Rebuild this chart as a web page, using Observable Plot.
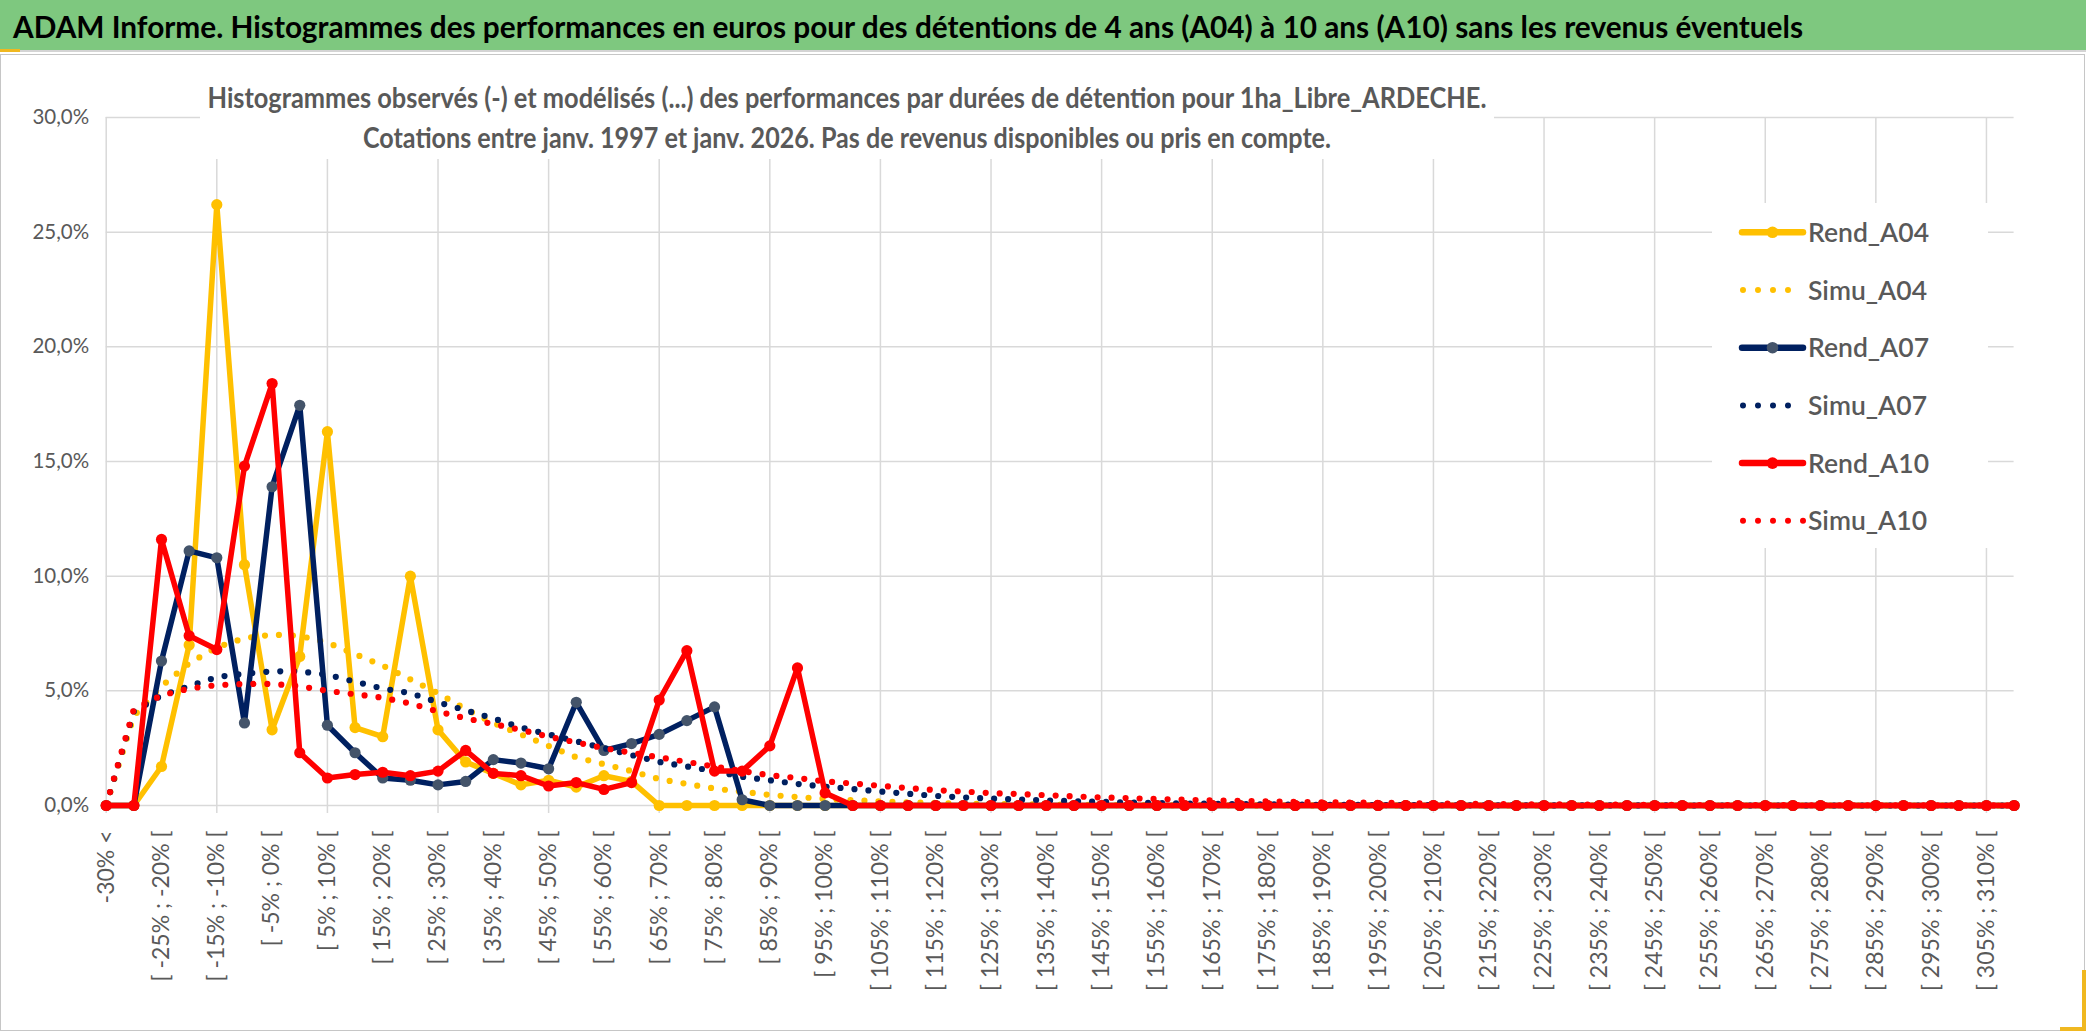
<!DOCTYPE html>
<html>
<head>
<meta charset="utf-8">
<script src="https://cdn.jsdelivr.net/npm/d3@7"></script>
<script src="https://cdn.jsdelivr.net/npm/@observablehq/plot@0.6"></script>
<style>
  html, body { margin: 0; padding: 0; background: #fff; overflow: hidden; width: 2086px; height: 1031px; }
  #title { position: relative; width: 2086px; height: 50px; background: #7ec87f; border-bottom: 2px solid #d4d4d4; box-sizing: content-box; }
  #titleText { position: absolute; left: 13px; top: 0; line-height: 52px; font-family: Lato, sans-serif; font-weight: 700; font-size: 30px; color: #000; white-space: nowrap; transform-origin: 0 50%; }
  #chart { position: relative; width: 2086px; height: 979px; }
  #subtitle { position: absolute; left: 200px; top: 8px; width: 1294px; height: 99px; background: #fff; font-family: Lato, sans-serif; font-weight: 700; font-size: 28.5px; color: #595959; padding-top: 17px; box-sizing: border-box; }
  #subtitle div { position: relative; height: 40px; line-height: 40px; white-space: nowrap; }
  #subtitle span { position: absolute; left: 50%; top: 0; display: inline-block; transform-origin: 50% 50%; transform: translateX(-50%); }
  #legend { position: absolute; left: 1712px; top: 151px; width: 276px; height: 345px; background: #fff; }
  #frame { position: absolute; left: 0; top: 2px; width: 2083px; height: 975px; border: 1px solid #c6c6c6; pointer-events: none; }
  .gold { position: absolute; background: #f0b820; }
</style>
</head>
<body>
<div id="title"><span id="titleText">ADAM Informe. Histogrammes des performances en euros pour des détentions de 4 ans (A04) à 10 ans (A10) sans les revenus éventuels</span></div>
<div id="chart">
  <div id="frame"></div>
  <div id="subtitle">
    <div><span id="sub1">Histogrammes observés (-) et modélisés (...) des performances par durées de détention pour 1ha_Libre_ARDECHE.</span></div>
    <div><span id="sub2">Cotations entre janv. 1997 et janv. 2026. Pas de revenus disponibles ou pris en compte.</span></div>
  </div>
  <div id="legend"></div>
  <div class="gold" style="left:0;top:-3px;width:20px;height:3px;"></div>
  <div class="gold" style="left:2082px;top:918px;width:4px;height:61px;"></div>
  <div class="gold" style="left:2060px;top:975px;width:26px;height:4px;"></div>
</div>
<script>
// ---- Data ----
const categories = [
  "-30% <", "[ -30% ; -25% [", "[ -25% ; -20% [", "[ -20% ; -15% [", "[ -15% ; -10% [", "[ -10% ; -5% [",
  "[ -5% ; 0% [", "[ 0% ; 5% [", "[ 5% ; 10% [", "[ 10% ; 15% [", "[ 15% ; 20% [", "[ 20% ; 25% [",
  "[ 25% ; 30% [", "[ 30% ; 35% [", "[ 35% ; 40% [", "[ 40% ; 45% [", "[ 45% ; 50% [", "[ 50% ; 55% [",
  "[ 55% ; 60% [", "[ 60% ; 65% [", "[ 65% ; 70% [", "[ 70% ; 75% [", "[ 75% ; 80% [", "[ 80% ; 85% [",
  "[ 85% ; 90% [", "[ 90% ; 95% [", "[ 95% ; 100% [", "[ 100% ; 105% [", "[ 105% ; 110% [", "[ 110% ; 115% [",
  "[ 115% ; 120% [", "[ 120% ; 125% [", "[ 125% ; 130% [", "[ 130% ; 135% [", "[ 135% ; 140% [", "[ 140% ; 145% [",
  "[ 145% ; 150% [", "[ 150% ; 155% [", "[ 155% ; 160% [", "[ 160% ; 165% [", "[ 165% ; 170% [", "[ 170% ; 175% [",
  "[ 175% ; 180% [", "[ 180% ; 185% [", "[ 185% ; 190% [", "[ 190% ; 195% [", "[ 195% ; 200% [", "[ 200% ; 205% [",
  "[ 205% ; 210% [", "[ 210% ; 215% [", "[ 215% ; 220% [", "[ 220% ; 225% [", "[ 225% ; 230% [", "[ 230% ; 235% [",
  "[ 235% ; 240% [", "[ 240% ; 245% [", "[ 245% ; 250% [", "[ 250% ; 255% [", "[ 255% ; 260% [", "[ 260% ; 265% [",
  "[ 265% ; 270% [", "[ 270% ; 275% [", "[ 275% ; 280% [", "[ 280% ; 285% [", "[ 285% ; 290% [", "[ 290% ; 295% [",
  "[ 295% ; 300% [", "[ 300% ; 305% [", "[ 305% ; 310% [", "[ 310% ; 315% ["
];

// values in %
const rendA04 = [
  0, 0, 1.7, 7.0, 26.2, 10.5, 3.3, 6.5, 16.3, 3.4,
  3.0, 10.0, 3.3, 1.9, 1.4, 0.9, 1.1, 0.8, 1.3, 1.05,
  0, 0, 0, 0, 0, 0, 0, 0, 0, 0,
  0, 0, 0, 0, 0, 0, 0, 0, 0, 0,
  0, 0, 0, 0, 0, 0, 0, 0, 0, 0,
  0, 0, 0, 0, 0, 0, 0, 0, 0, 0,
  0, 0, 0, 0, 0, 0, 0, 0, 0, 0
];
const simuA04 = [
  0, 3.9, 5.2, 6.2, 6.9, 7.3, 7.45, 7.4, 7.1, 6.6,
  6.1, 5.5, 4.9, 4.2, 3.6, 3.1, 2.6, 2.1, 1.8, 1.5,
  1.15, 0.94, 0.74, 0.6, 0.46, 0.37, 0.29, 0.23, 0.18, 0.14,
  0.11, 0.085, 0.065, 0.05, 0.04, 0.03, 0.022, 0.017, 0.013, 0.01,
  0.008, 0.006, 0.005, 0.004, 0.003, 0.002, 0.002, 0.001, 0.001, 0.001,
  0, 0, 0, 0, 0, 0, 0, 0, 0, 0,
  0, 0, 0, 0, 0, 0, 0, 0, 0, 0
];
const rendA07 = [
  0, 0, 6.3, 11.1, 10.8, 3.6, 13.9, 17.45, 3.5, 2.3,
  1.2, 1.1, 0.9, 1.05, 2.0, 1.85, 1.6, 4.5, 2.4, 2.7,
  3.1, 3.7, 4.3, 0.25, 0, 0, 0, 0, 0, 0,
  0, 0, 0, 0, 0, 0, 0, 0, 0, 0,
  0, 0, 0, 0, 0, 0, 0, 0, 0, 0,
  0, 0, 0, 0, 0, 0, 0, 0, 0, 0,
  0, 0, 0, 0, 0, 0, 0, 0, 0, 0
];
const simuA07 = [
  0, 4.1, 4.8, 5.2, 5.6, 5.75, 5.85, 5.85, 5.7, 5.4,
  5.1, 4.9, 4.5, 4.15, 3.8, 3.4, 3.1, 2.8, 2.5, 2.2,
  1.9, 1.7, 1.5, 1.25, 1.1, 0.94, 0.82, 0.72, 0.61, 0.51,
  0.42, 0.35, 0.3, 0.26, 0.22, 0.19, 0.16, 0.13, 0.11, 0.09,
  0.075, 0.06, 0.05, 0.04, 0.03, 0.025, 0.02, 0.015, 0.012, 0.01,
  0.008, 0.006, 0.005, 0.004, 0.003, 0.002, 0.002, 0.001, 0.001, 0,
  0, 0, 0, 0, 0, 0, 0, 0, 0, 0
];
const rendA10 = [
  0, 0, 11.6, 7.4, 6.8, 14.8, 18.4, 2.3, 1.2, 1.35,
  1.45, 1.3, 1.5, 2.4, 1.4, 1.3, 0.85, 1.0, 0.7, 1.0,
  4.6, 6.75, 1.5, 1.5, 2.6, 6.0, 0.55, 0, 0, 0,
  0, 0, 0, 0, 0, 0, 0, 0, 0, 0,
  0, 0, 0, 0, 0, 0, 0, 0, 0, 0,
  0, 0, 0, 0, 0, 0, 0, 0, 0, 0,
  0, 0, 0, 0, 0, 0, 0, 0, 0, 0
];
const simuA10 = [
  0, 4.2, 4.8, 5.1, 5.25, 5.3, 5.3, 5.2, 5.0, 4.85,
  4.7, 4.45, 4.1, 3.8, 3.55, 3.3, 3.0, 2.75, 2.5, 2.3,
  2.1, 1.9, 1.7, 1.5, 1.32, 1.2, 1.05, 0.96, 0.86, 0.76,
  0.67, 0.61, 0.54, 0.5, 0.45, 0.4, 0.35, 0.32, 0.28, 0.25,
  0.22, 0.2, 0.18, 0.16, 0.14, 0.13, 0.12, 0.1, 0.09, 0.08,
  0.07, 0.06, 0.05, 0.045, 0.04, 0.035, 0.03, 0.025, 0.02, 0.02,
  0.015, 0.015, 0.01, 0.01, 0.01, 0.008, 0.006, 0.005, 0.004, 0.003
];

const yTicks = [0, 5, 10, 15, 20, 25, 30];
const seriesNames = ["Rend_A04", "Simu_A04", "Rend_A07", "Simu_A07", "Rend_A10", "Simu_A10"];
const seriesValues = [rendA04, simuA04, rendA07, simuA07, rendA10, simuA10];
const seriesColors = ["#FFC000", "#FFC000", "#002060", "#002060", "#FF0000", "#FF0000"];
const markerColors = ["#FFC000", null, "#44546A", null, "#FF0000", null];

// ---- Derived tables ----
const labelCats = categories.filter((d, i) => i % 2 === 0 && i < 69);
const gridCats = categories.filter((d, i) => i % 4 === 0);
const fmt = d => d.toFixed(1).replace(".", ",") + "%";

const dotted = "0 14";
const seriesMarks = [];
seriesNames.forEach((name, s) => {
  const data = categories.map((c, i) => ({cat: c, v: seriesValues[s][i]}));
  const isSimu = name.startsWith("Simu");
  seriesMarks.push(Plot.line(data, {
    x: "cat", y: "v", stroke: seriesColors[s], strokeWidth: isSimu ? 6.2 : 5.5,
    strokeLinejoin: "round", strokeLinecap: "round",
    strokeDasharray: isSimu ? dotted : null
  }));
  if (!isSimu) {
    seriesMarks.push(Plot.dot(data, {x: "cat", y: "v", r: 5.6, fill: markerColors[s], stroke: null}));
  }
});

const chart = Plot.plot({
  width: 2086,
  height: 979,
  marginLeft: 105.7,
  marginRight: 72.4,
  marginTop: 65,
  marginBottom: 226,
  style: {fontFamily: "Lato, sans-serif", color: "#595959", background: "transparent", overflow: "visible"},
  x: {type: "point", domain: categories, padding: 0},
  y: {domain: [0, 30]},
  marks: [
    Plot.ruleY(yTicks, {stroke: "#d9d9d9", strokeWidth: 1.5}),
    Plot.ruleX(gridCats, {y1: 0, y2: 30, stroke: "#d9d9d9", strokeWidth: 1.5}),
    Plot.axisX({ticks: gridCats, tickSize: 8, fill: "none", stroke: "#d9d9d9", strokeWidth: 1.5, label: null}),
    Plot.axisX({ticks: labelCats, tickSize: 0, tickPadding: 25, tickRotate: -90, fontSize: 23, fill: "#595959", label: null}),
    Plot.axisY({ticks: yTicks, tickSize: 0, tickPadding: 17, tickFormat: fmt, fontSize: 20.5, fill: "#595959", label: null}),
    ...seriesMarks
  ]
});
document.getElementById("chart").insertBefore(chart, document.getElementById("frame"));

// ---- Legend ----
const leg = d3.select("#legend").append("svg").attr("width", 276).attr("height", 345);
seriesNames.forEach((name, s) => {
  const y = 29.3 + 57.7 * s;
  const isSimu = name.startsWith("Simu");
  const x2 = isSimu ? (s === 5 ? 92 : 77) : 91;
  leg.append("line").attr("x1", isSimu ? 31 : 30).attr("x2", x2).attr("y1", y).attr("y2", y)
    .attr("stroke", seriesColors[s]).attr("stroke-width", isSimu ? 6 : 6.5)
    .attr("stroke-linecap", "round").attr("stroke-dasharray", isSimu ? "0 15" : null);
  if (!isSimu) leg.append("circle").attr("cx", 60.5).attr("cy", y).attr("r", 5.8).attr("fill", markerColors[s]);
  leg.append("text").attr("x", 96).attr("y", y).attr("dy", "0.36em")
    .attr("font-family", "Lato, sans-serif").attr("font-weight", 600).attr("font-size", 26.5)
    .attr("fill", "#595959").text(name);
});

// ---- Fit text widths to reference ----
function fit(id, target, base) {
  const el = document.getElementById(id);
  el.style.transform = base || "none";
  const w = el.getBoundingClientRect().width;
  if (w > 0) el.style.transform = (base ? base + " " : "") + `scaleX(${target / w})`;
}
function fitAll() {
  fit("titleText", 1790);
  fit("sub1", 1279, "translateX(-50%)");
  fit("sub2", 968, "translateX(-50%)");
}
fitAll();
if (document.fonts && document.fonts.ready) document.fonts.ready.then(fitAll);
</script>
</body>
</html>
